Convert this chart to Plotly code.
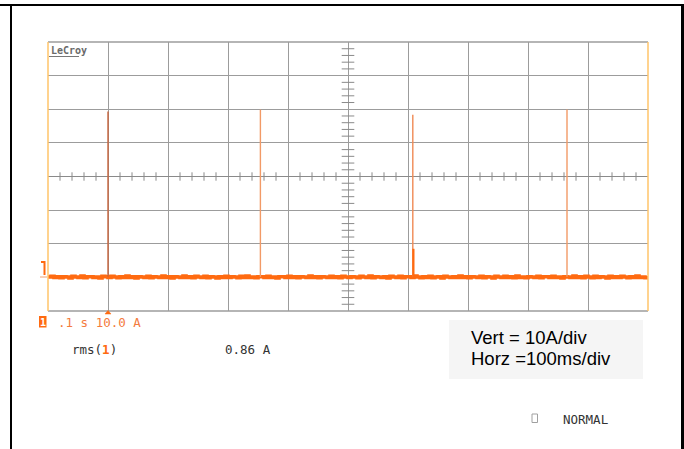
import plotly.graph_objects as go

# ---------------- data ----------------
sample_interval_s = 0.005           # baseline samples drawn every 5 ms
baseline_A = [
    -29.9, -29.7, -30.0, -29.8, -30.1, -29.8, -29.9, -30.2, -29.7, -29.9,
    -30.0, -29.6, -30.1, -29.8, -29.8, -30.0, -29.9, -30.2, -29.7, -29.8,
    -30.0, -29.7, -29.9, -30.1, -29.8, -30.0, -29.6, -30.0, -29.8, -30.2,
    -29.8, -29.9, -30.0, -29.7, -30.1, -29.8, -29.9, -30.0, -29.6, -30.0,
    -29.8, -30.2, -29.8, -29.9, -30.0, -29.6, -30.0, -29.8, -30.1, -29.7,
    -29.9, -30.0, -29.7, -30.1, -29.8, -29.9, -30.2, -29.8, -30.0, -29.7,
    -30.0, -29.8, -29.9, -30.1, -29.7, -30.0, -29.6, -30.0, -29.9, -30.1,
    -29.8, -29.8, -30.0, -29.7, -30.0, -29.9, -30.2, -29.8, -29.8, -30.0,
    -29.7, -30.0, -29.8, -30.1, -29.8, -29.9, -30.0, -29.6, -30.0, -29.8,
    -30.1, -29.8, -29.9, -30.0, -29.7, -30.0, -29.8, -30.1, -29.7, -29.9,
    -30.0, -29.8, -29.9, -30.1, -29.7, -29.9, -30.0, -29.6, -30.1, -29.8,
    -29.9, -30.0, -29.8, -30.2, -29.7, -29.9, -30.0, -29.7, -30.1, -29.8,
    -29.8, -30.0, -29.6, -29.9, -30.1, -29.8, -30.0, -29.7, -30.1, -29.9,
    -29.8, -30.2, -29.7, -29.9, -30.0, -29.8, -30.0, -29.6, -30.0, -29.8,
    -30.1, -29.8, -29.9, -30.0, -29.7, -30.1, -29.8, -29.9, -30.2, -29.7,
    -29.9, -30.0, -29.7, -30.0, -29.8, -30.1, -29.6, -30.0, -29.9, -30.1,
    -29.8, -29.9, -30.0, -29.7, -30.1, -29.8, -29.8, -30.0, -29.7, -30.0,
    -29.9, -30.2, -29.8, -29.9, -30.0, -29.6, -30.0, -29.8, -30.1, -29.7,
    -29.9, -30.1, -29.7, -30.0, -29.8, -29.9, -30.2, -29.7, -30.0, -29.8,
    -30.0, -29.7, -29.9, -30.1, -29.8, -30.0, -29.6, -30.0, -29.9, -30.1,
    -29.9,
]
spike_times_s = [0.100, 0.354, 0.608, 0.865]
spike_peaks_A = [19.3, 19.9, 18.4, 19.9]
spike_colors = ["#c8643c", "#f29a66", "#f08a55", "#f29a66"]
spike3_shoulder_A = -21.5
baseline_level_A = -29.85

x_range = [0.0, 1.0]    # 100 ms/div, 10 div
y_range = [-40.0, 40.0]  # 10 A/div, 8 div

# ---------------- geometry helpers (pixel -> paper) ----------------
W, H = 684, 449
X0, X1, Y0, Y1 = 48, 648, 42, 311


def px(x):
    return (x - X0) / (X1 - X0)


def py(y):
    return (Y1 - y) / (Y1 - Y0)


fig = go.Figure()

# graticule ticks on centre lines
tick_t = [i * 0.02 for i in range(51) if i % 5 != 0]
fig.add_trace(go.Scatter(
    x=tick_t, y=[0] * len(tick_t), mode="markers",
    marker=dict(symbol="line-ns", size=6, line=dict(color="#8a8a8a", width=1)),
    hoverinfo="skip", showlegend=False))
tick_a = [-40 + i * 2 for i in range(41) if i % 5 != 0]
fig.add_trace(go.Scatter(
    x=[0.5] * len(tick_a), y=tick_a, mode="markers",
    marker=dict(symbol="line-ew", size=9, line=dict(color="#8a8a8a", width=1)),
    hoverinfo="skip", showlegend=False))

# baseline noise band
t_base = [i * sample_interval_s for i in range(len(baseline_A))]
fig.add_trace(go.Scatter(
    x=t_base, y=baseline_A, mode="lines", line_shape="hv",
    line=dict(color="#ff6a10", width=3.6), hoverinfo="skip", showlegend=False))

# spikes
for t, pk, c in zip(spike_times_s, spike_peaks_A, spike_colors):
    fig.add_trace(go.Scatter(
        x=[t, t], y=[baseline_level_A, pk], mode="lines",
        line=dict(color=c, width=1.4), hoverinfo="skip", showlegend=False))
fig.add_trace(go.Scatter(
    x=[spike_times_s[2] + 0.001] * 2, y=[baseline_level_A, spike3_shoulder_A],
    mode="lines", line=dict(color="#ff6a10", width=2.2),
    hoverinfo="skip", showlegend=False))

fig.update_xaxes(range=x_range, dtick=0.1, showgrid=True, gridcolor="#9c9c9c",
                 gridwidth=1, showticklabels=False, zeroline=False,
                 showline=False, ticks="", fixedrange=True)
fig.update_yaxes(range=y_range, dtick=10, showgrid=True, gridcolor="#9c9c9c",
                 gridwidth=1, showticklabels=False, zeroline=True,
                 zerolinecolor="#8a8a8a", zerolinewidth=1,
                 showline=False, ticks="", fixedrange=True)

shapes = []
# plot border: top / bottom gray, left / right orange
shapes.append(dict(type="line", xref="paper", yref="paper", x0=0, x1=1, y0=1, y1=1,
                   line=dict(color="#9c9c9c", width=1.5)))
shapes.append(dict(type="line", xref="paper", yref="paper", x0=0, x1=1, y0=0, y1=0,
                   line=dict(color="#9c9c9c", width=1.5)))
for xx in (0, 1):
    shapes.append(dict(type="line", xref="paper", yref="paper", x0=xx, x1=xx, y0=0, y1=1,
                       line=dict(color="#ffc46a", width=1.5)))
# outer black frame
shapes.append(dict(type="line", xref="paper", yref="paper", x0=px(0), x1=px(684),
                   y0=py(5), y1=py(5), line=dict(color="black", width=2)))
shapes.append(dict(type="line", xref="paper", yref="paper", x0=px(11), x1=px(11),
                   y0=py(4), y1=py(449), line=dict(color="black", width=2)))
shapes.append(dict(type="line", xref="paper", yref="paper", x0=px(682.5), x1=px(682.5),
                   y0=py(4), y1=py(449), line=dict(color="black", width=3)))
# LeCroy underline
shapes.append(dict(type="line", xref="paper", yref="paper", x0=px(49), x1=px(79),
                   y0=py(56.5), y1=py(56.5), line=dict(color="#777777", width=1)))
# ground marker
shapes.append(dict(type="path", xref="paper", yref="paper",
                   path=f"M {px(41)},{py(262)} L {px(44.5)},{py(262)} L {px(44.5)},{py(275)}",
                   line=dict(color="#ff6a10", width=2)))
shapes.append(dict(type="line", xref="paper", yref="paper", x0=px(40), x1=px(47),
                   y0=py(277), y1=py(277), line=dict(color="#f0a070", width=1)))
# trigger triangle
shapes.append(dict(type="path", xref="paper", yref="paper",
                   path=f"M {px(105)},{py(314)} L {px(108)},{py(310.5)} L {px(111)},{py(314)} Z",
                   fillcolor="#ff6a10", line=dict(color="#ff6a10", width=0.5)))
# channel "1" badge
shapes.append(dict(type="rect", xref="paper", yref="paper", x0=px(39), x1=px(46.5),
                   y0=py(316), y1=py(327.5), fillcolor="#ff6a10",
                   line=dict(color="#ff6a10", width=0)))
# Vert/Horz box
shapes.append(dict(type="rect", xref="paper", yref="paper", x0=px(449), x1=px(643),
                   y0=py(320), y1=py(379), fillcolor="#f5f5f5", line=dict(width=0),
                   layer="below"))
# NORMAL checkbox
shapes.append(dict(type="rect", xref="paper", yref="paper", x0=px(532), x1=px(537.5),
                   y0=py(414), y1=py(422.5), fillcolor="white",
                   line=dict(color="#a0a0a0", width=1)))

mono = "DejaVu Sans Mono"
ann = []


def text(x, y, s, size, color, family=mono, anchor="left"):
    ann.append(dict(x=px(x), y=py(y), xref="paper", yref="paper", text=s,
                    showarrow=False, xanchor=anchor, yanchor="middle",
                    font=dict(family=family, size=size, color=color)))


text(48.5, 50.5, "<b>LeCroy</b>", 10, "#6a6a6a")
text(42.8, 322, "<b>1</b>", 10, "white", anchor="center")
text(55.5, 322, ".1 s 10.0 A", 12.5, "#f47b3e")
text(69.5, 349.5, "rms(<span style='color:#ff6a10'><b>1</b></span>)", 12.5, "#333333")
text(223, 349.5, "0.86 A", 12.5, "#333333")
text(561, 420, "NORMAL", 12.5, "#333333")
text(469, 337.5, "Vert = 10A/div", 18.5, "black", family="Liberation Sans")
text(469, 358, "Horz =100ms/div", 18.5, "black", family="Liberation Sans")

fig.update_layout(
    width=W, height=H,
    margin=dict(l=X0, r=W - X1, t=Y0, b=H - Y1, pad=0),
    plot_bgcolor="white", paper_bgcolor="white",
    shapes=shapes, annotations=ann, showlegend=False,
)

fig.write_html("out.html", config={"displayModeBar": False},
               post_script="document.body.style.margin='0';document.body.style.overflow='hidden';")
